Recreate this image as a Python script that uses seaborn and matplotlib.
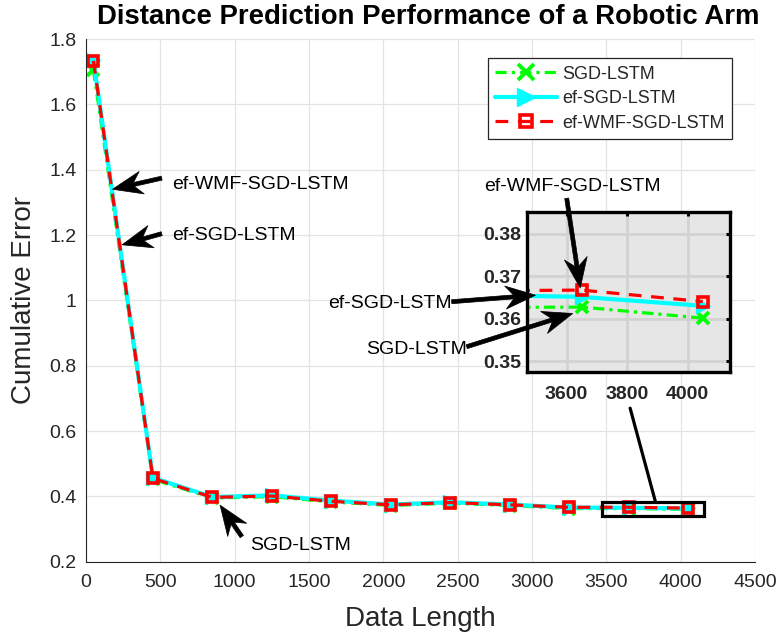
import numpy as np
import pandas as pd
import matplotlib
matplotlib.use("Agg")
import matplotlib.pyplot as plt
from matplotlib.patches import Rectangle, ArrowStyle
from matplotlib.path import Path
import seaborn as sns

# ---- data -------------------------------------------------------------
data_length = [50, 450, 850, 1250, 1650, 2050, 2450, 2850, 3250, 3650, 4050]
sgd_lstm = [1.705, 0.452, 0.395, 0.399, 0.383, 0.372, 0.379, 0.372, 0.3626, 0.3627, 0.3601]
ef_sgd_lstm = [1.735, 0.457, 0.398, 0.403, 0.387, 0.375, 0.382, 0.375, 0.3656, 0.3651, 0.3630]
ef_wmf_sgd_lstm = [1.733, 0.455, 0.397, 0.401, 0.385, 0.374, 0.381, 0.374, 0.3665, 0.3667, 0.3640]

series_names = ["SGD-LSTM", "ef-SGD-LSTM", "ef-WMF-SGD-LSTM"]
x_ticks = [0, 500, 1000, 1500, 2000, 2500, 3000, 3500, 4000, 4500]
y_ticks = [0.2, 0.4, 0.6, 0.8, 1.0, 1.2, 1.4, 1.6, 1.8]
y_tick_labels = ["0.2", "0.4", "0.6", "0.8", "1", "1.2", "1.4", "1.6", "1.8"]
zoom_x_ticks = [3600, 3800, 4000]
zoom_y_ticks = [0.35, 0.36, 0.37, 0.38]

df = pd.DataFrame({
    "Data Length": data_length * 3,
    "Cumulative Error": sgd_lstm + ef_sgd_lstm + ef_wmf_sgd_lstm,
    "Method": [n for n in series_names for _ in data_length],
})

# ---- style ------------------------------------------------------------
sns.set_style("white")
plt.rcParams["font.family"] = ["Liberation Sans", "DejaVu Sans"]
AX_COL = "#262626"

styles = {
    "SGD-LSTM": dict(color="#00ff00", linestyle=(0, (3.5, 1.6, 1.0, 1.6)), linewidth=2.3,
                     marker="x", markersize=9, markeredgewidth=2.8,
                     markeredgecolor="#00ff00", markerfacecolor="#00ff00"),
    "ef-SGD-LSTM": dict(color="#00ffff", linestyle="-", linewidth=3.0,
                        marker=">", markersize=9.5, markeredgewidth=1.0,
                        markeredgecolor="#00ffff", markerfacecolor="#00ffff"),
    "ef-WMF-SGD-LSTM": dict(color="#ff0000", linestyle=(0, (4.0, 3.0)), linewidth=2.3,
                            marker="s", markersize=6.5, markeredgewidth=2.6,
                            markeredgecolor="#ff0000", markerfacecolor="none"),
}


class SweptArrow(ArrowStyle._Base):
    """Straight arrow with a swept-back (concave) filled head; sizes in pixels."""

    def __init__(self, head_length=30, head_width=23, notch=22, shaft=4):
        self.head_length = head_length
        self.head_width = head_width
        self.notch = notch
        self.shaft = shaft
        super().__init__()

    def transmute(self, path, mutation_size, linewidth):
        k = mutation_size / 10.0
        (x0, y0), (x1, y1) = path.vertices[0], path.vertices[-1]
        d = np.array([x1 - x0, y1 - y0], dtype=float)
        d /= np.hypot(*d)
        n = np.array([-d[1], d[0]])
        tail = np.array([x0, y0])
        tip = np.array([x1, y1])
        hl, hw, nb, sw = (self.head_length * k, self.head_width * k,
                          self.notch * k, self.shaft * k)
        base = tip - d * nb
        verts = [
            tail + n * sw / 2,
            base + n * sw / 2,
            tip - d * hl + n * hw / 2,
            tip,
            tip - d * hl - n * hw / 2,
            base - n * sw / 2,
            tail - n * sw / 2,
            tail + n * sw / 2,
        ]
        codes = [Path.MOVETO] + [Path.LINETO] * 6 + [Path.CLOSEPOLY]
        return Path(verts, codes), True


def draw_series(axis, with_label):
    for name in series_names:
        sub = df[df["Method"] == name]
        sns.lineplot(data=sub, x="Data Length", y="Cumulative Error", ax=axis,
                     sort=False, estimator=None, errorbar=None,
                     label=name if with_label else None, legend=False,
                     **styles[name])


fig = plt.figure(figsize=(7.81, 6.42), dpi=100)
ax = fig.add_axes([86 / 781, 1 - 561.7 / 642, 669 / 781, 522.7 / 642])

draw_series(ax, True)

ax.set_xlim(0, 4500)
ax.set_ylim(0.2, 1.8)
ax.set_xticks(x_ticks)
ax.set_yticks(y_ticks)
ax.set_yticklabels(y_tick_labels)
ax.grid(True, color="#e3e3e3", linewidth=0.9)
ax.set_axisbelow(True)
for side in ["top", "right"]:
    ax.spines[side].set_visible(False)
for side in ["left", "bottom"]:
    ax.spines[side].set_color(AX_COL)
    ax.spines[side].set_linewidth(0.8)
ax.tick_params(axis="both", direction="in", length=5, width=0.8, color=AX_COL,
               labelcolor=AX_COL, labelsize=14)
ax.tick_params(axis="x", pad=9)
ax.tick_params(axis="y", pad=7)
ax.set_xlabel("Data Length", fontsize=20, color=AX_COL, labelpad=11)
ax.set_ylabel("Cumulative Error", fontsize=20, color=AX_COL, labelpad=9)
ax.set_title("Distance Prediction Performance of a Robotic Arm",
             fontsize=19.8, fontweight="bold", color="black", pad=11, x=0.512)

leg = ax.legend(loc="upper left", bbox_to_anchor=(0.601, 0.963), borderaxespad=0,
                fontsize=13, handlelength=3.4, handletextpad=0.3, labelspacing=0.42,
                borderpad=0.4, frameon=True, fancybox=False, framealpha=1,
                edgecolor="#262626", numpoints=1, markerscale=1.3)
leg.get_frame().set_linewidth(0.9)

# zoomed-region box and connector
ax.add_patch(Rectangle((3470, 0.340), 684, 0.044, fill=False, edgecolor="black",
                       linewidth=2.3, zorder=5))
ax.plot([3830, 3660], [0.384, 0.670], color="black", linewidth=2.3, zorder=5)

arrow_kw = dict(arrowstyle=SweptArrow(), facecolor="black", edgecolor="black",
                lw=0.5, mutation_scale=10 * 72 / 100, shrinkA=0, shrinkB=0)
txt_kw = dict(fontsize=14, color="black", va="center")

ax.annotate("", xy=(178, 1.34), xytext=(509, 1.374), arrowprops=arrow_kw)
ax.text(577, 1.354, "ef-WMF-SGD-LSTM", ha="left", **txt_kw)
ax.annotate("", xy=(243, 1.17), xytext=(509, 1.204), arrowprops=arrow_kw)
ax.text(577, 1.198, "ef-SGD-LSTM", ha="left", **txt_kw)
ax.annotate("", xy=(902, 0.373), xytext=(1048, 0.277), arrowprops=arrow_kw)
ax.text(1104, 0.251, "SGD-LSTM", ha="left", **txt_kw)

# ---- inset ------------------------------------------------------------
axin = fig.add_axes([527.3 / 781, 1 - 371.7 / 642, 202.7 / 781, 159.4 / 642])
axin.set_facecolor("#e6e6e6")
draw_series(axin, False)
axin.set_xlim(3470, 4140)
axin.set_ylim(0.3475, 0.385)
axin.set_xticks(zoom_x_ticks)
axin.set_yticks(zoom_y_ticks)
axin.set_xticklabels([str(v) for v in zoom_x_ticks])
axin.set_yticklabels([f"{v:.2f}" for v in zoom_y_ticks])
axin.set_xlabel("")
axin.set_ylabel("")
axin.grid(True, color="#d2d2d2", linewidth=2.0)
axin.set_axisbelow(True)
for sp in axin.spines.values():
    sp.set_visible(True)
    sp.set_color("black")
    sp.set_linewidth(2.4)
axin.tick_params(axis="both", direction="in", length=3, width=2.2, color="black",
                 labelsize=14, top=True, right=True)
for lab in axin.get_xticklabels() + axin.get_yticklabels():
    lab.set_fontweight("bold")
axin.tick_params(axis="x", pad=10)
axin.tick_params(axis="y", pad=4)


def fig_px(px, py):
    return (px / 781, 1 - py / 642)


axin.annotate("", xy=(3645, 0.3672), xycoords="data",
              xytext=fig_px(566.7, 198.3), textcoords="figure fraction",
              arrowprops=arrow_kw, annotation_clip=False)
fig.text(*fig_px(572.5, 186.7), "ef-WMF-SGD-LSTM", ha="center", **txt_kw)
axin.annotate("", xy=(3497, 0.3655), xycoords="data",
              xytext=fig_px(451.7, 301.7), textcoords="figure fraction",
              arrowprops=arrow_kw, annotation_clip=False)
fig.text(*fig_px(452, 303.3), "ef-SGD-LSTM", ha="right", **txt_kw)
axin.annotate("", xy=(3620, 0.3612), xycoords="data",
              xytext=fig_px(466.7, 346.7), textcoords="figure fraction",
              arrowprops=arrow_kw, annotation_clip=False)
fig.text(*fig_px(467, 350), "SGD-LSTM", ha="right", **txt_kw)

fig.savefig("out.png", dpi=100)
